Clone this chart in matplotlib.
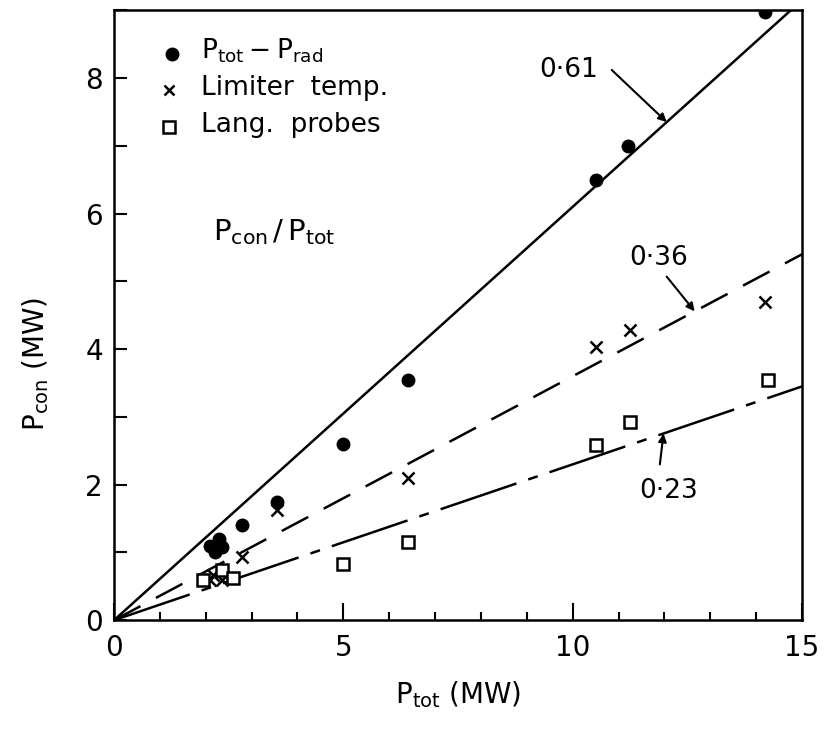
import numpy as np
import matplotlib
matplotlib.use("Agg")
import matplotlib.pyplot as plt
from matplotlib.ticker import MultipleLocator

# P_tot - P_rad (filled circles)
rad_x = [2.1, 2.2, 2.3, 2.35, 2.8, 3.55, 5.0, 6.4, 10.5, 11.2, 14.2]
rad_y = [1.1, 1.0, 1.2, 1.08, 1.4, 1.75, 2.6, 3.55, 6.5, 7.0, 8.98]
# limiter temperature (crosses)
lim_x = [2.1, 2.15, 2.35, 2.8, 3.55, 6.4, 10.5, 11.25, 14.2]
lim_y = [0.6, 0.67, 0.6, 0.93, 1.62, 2.1, 4.03, 4.28, 4.7]
# Langmuir probes (squares)
lang_x = [1.95, 2.35, 2.6, 5.0, 6.4, 10.5, 11.25, 14.25]
lang_y = [0.6, 0.74, 0.62, 0.83, 1.15, 2.58, 2.92, 3.54]
# fitted ratios P_con/P_tot
slopes = [0.61, 0.36, 0.23]
slope_labels = ["0·61", "0·36", "0·23"]

plt.rcParams['font.family'] = ['DejaVu Sans']
plt.rcParams['mathtext.fontset'] = 'dejavusans'

fig = plt.figure(figsize=(8.26, 7.34), dpi=100)
ax = fig.add_axes([0.138, 0.155, 0.833, 0.831])

xs = np.array([0, 15])
ax.plot(xs, slopes[0] * xs, color='k', lw=1.8)
ax.plot(xs, slopes[1] * xs, color='k', lw=1.8, dashes=(12, 7))
ax.plot(xs, slopes[2] * xs, color='k', lw=1.8, dashes=(32, 5, 4, 5))

ax.plot(rad_x, rad_y, 'o', color='k', ms=9, zorder=5)
ax.plot(lim_x, lim_y, 'x', color='k', ms=8, mew=1.8, zorder=5)
ax.plot(lang_x, lang_y, 's', color='k', mfc='white', ms=9, mew=1.8, zorder=5)

# slope annotations, arrows pointing on to the lines
arrow = dict(arrowstyle='-|>', color='k', lw=1.5, mutation_scale=12,
             shrinkA=0, shrinkB=0)
ax.text(10.55, 8.12, slope_labels[0], fontsize=19, ha='right', va='center')
ax.annotate('', xy=(12.05, slopes[0] * 12.05), xytext=(10.85, 8.12),
            arrowprops=arrow)
ax.text(11.87, 5.35, slope_labels[1], fontsize=19, ha='center', va='center')
ax.annotate('', xy=(12.66, slopes[1] * 12.66), xytext=(12.05, 5.07),
            arrowprops=arrow)
ax.text(12.1, 1.9, slope_labels[2], fontsize=19, ha='center', va='center')
ax.annotate('', xy=(11.98, slopes[2] * 11.98), xytext=(11.9, 2.3),
            arrowprops=arrow)

# legend drawn as text, like the original
ax.plot([1.26], [8.36], 'o', color='k', ms=9)
ax.text(1.9, 8.41, r'$\mathrm{P}_{\mathrm{tot}}-\mathrm{P}_{\mathrm{rad}}$',
        fontsize=19, va='center')
ax.plot([1.2], [7.82], 'x', color='k', ms=7, mew=1.8)
ax.text(1.9, 7.86, 'Limiter  temp.', fontsize=19, va='center')
ax.plot([1.2], [7.28], 's', color='k', mfc='white', ms=8, mew=1.8)
ax.text(1.9, 7.3, 'Lang.  probes', fontsize=19, va='center')
ax.text(2.15, 5.72, r'$\mathrm{P}_{\mathrm{con}}\,/\,\mathrm{P}_{\mathrm{tot}}$',
        fontsize=21, va='center')

ax.set_xlim(0, 15)
ax.set_ylim(0, 9)
ax.xaxis.set_major_locator(MultipleLocator(5))
ax.xaxis.set_minor_locator(MultipleLocator(1))
ax.yaxis.set_major_locator(MultipleLocator(2))
ax.yaxis.set_minor_locator(MultipleLocator(1))
ax.tick_params(which='both', direction='in', width=1.5, labelsize=20)
ax.tick_params(axis='x', which='major', length=12, pad=10)
ax.tick_params(axis='x', which='minor', length=6)
ax.tick_params(axis='y', which='both', length=9, pad=8)
for sp in ax.spines.values():
    sp.set_linewidth(1.8)

ax.set_xlabel(r'$\mathrm{P}_{\mathrm{tot}}$ (MW)', fontsize=20, labelpad=12)
ax.set_ylabel(r'$\mathrm{P}_{\mathrm{con}}$ (MW)', fontsize=20)
ax.yaxis.set_label_coords(-0.092, 0.42)

fig.savefig("out.png", dpi=100)
